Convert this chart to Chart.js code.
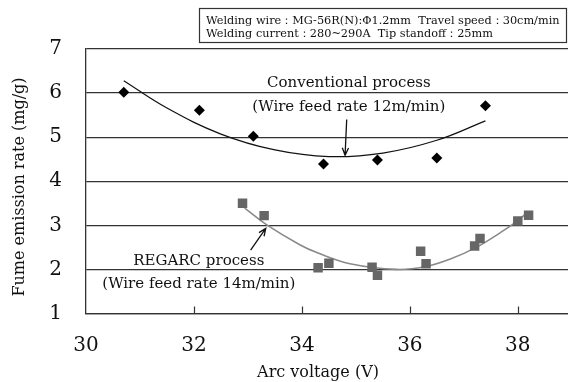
<!DOCTYPE html>
<html>
<head>
<meta charset="utf-8">
<script src="https://cdn.jsdelivr.net/npm/chart.js@4.4.0/dist/chart.umd.min.js"></script>
<style>
  html, body { margin: 0; padding: 0; background: #fff; overflow: hidden; }
</style>
</head>
<body>
<canvas id="mycanvas" width="568" height="382"></canvas>
<script>
// values
var convVoltage = [30.7, 32.1, 33.1, 34.4, 35.4, 36.5, 37.4];
var convFume = [6.02, 5.61, 5.02, 4.39, 4.48, 4.53, 5.71];
var convFitVoltage = [30.7, 31.5, 32.5, 33.5, 34.5, 35.5, 36.5, 37.4];
var convFitFume = [6.28, 5.66, 5.07, 4.71, 4.56, 4.64, 4.93, 5.37];

var regarcVoltage = [32.9, 33.3, 34.3, 34.5, 35.3, 35.4, 36.2, 36.3, 37.2, 37.3, 38.0, 38.2];
var regarcFume = [3.50, 3.22, 2.04, 2.14, 2.05, 1.87, 2.41, 2.13, 2.53, 2.70, 3.10, 3.23];
var regarcFitVoltage = [32.94, 33.35, 33.96, 34.3, 34.89, 35.75, 36.28, 36.74, 37.23, 37.67, 37.98, 38.19];
var regarcFitFume = [3.39, 3.01, 2.56, 2.37, 2.13, 2.00, 2.06, 2.23, 2.50, 2.83, 3.09, 3.31];

var xTicks = [30, 32, 34, 36, 38];
var yTicks = [1, 2, 3, 4, 5, 6, 7];

var infoLines = [
  'Welding wire\uff1aMG-56R(N):\u03a61.2mm  Travel speed\uff1a30cm/min',
  'Welding current\uff1a280~290A  Tip standoff\uff1a25mm'
];

function pts(xs, ys) {
  return xs.map(function(v, i) { return {x: v, y: ys[i]}; });
}

var serif = "'DejaVu Serif', 'Liberation Serif', serif";
Chart.defaults.font.family = serif;
Chart.defaults.color = '#111';

function arrow(ctx, x1, y1, x2, y2) {
  var a = Math.atan2(y2 - y1, x2 - x1), h = 8;
  ctx.beginPath();
  ctx.moveTo(x1, y1);
  ctx.lineTo(x2, y2);
  ctx.moveTo(x2 - h * Math.cos(a - 0.4), y2 - h * Math.sin(a - 0.4));
  ctx.lineTo(x2, y2);
  ctx.lineTo(x2 - h * Math.cos(a + 0.4), y2 - h * Math.sin(a + 0.4));
  ctx.stroke();
}

var notes = {
  id: 'notes',
  afterDraw: function(chart) {
    var ctx = chart.ctx, sx = chart.scales.x, sy = chart.scales.y, a = chart.chartArea;
    ctx.save();

    // tick marks inside the bottom axis
    ctx.strokeStyle = '#333';
    ctx.lineWidth = 1.2;
    xTicks.slice(1).forEach(function(v) {
      var px = Math.round(sx.getPixelForValue(v)) + 0.5;
      ctx.beginPath();
      ctx.moveTo(px, a.bottom);
      ctx.lineTo(px, a.bottom - 7);
      ctx.stroke();
    });

    // text labels
    ctx.fillStyle = '#111';
    ctx.textAlign = 'center';
    ctx.textBaseline = 'middle';
    ctx.font = '15px ' + serif;
    ctx.fillText('Conventional process', sx.getPixelForValue(34.87), sy.getPixelForValue(6.22));
    ctx.fillText('(Wire feed rate 12m/min)', sx.getPixelForValue(34.87), sy.getPixelForValue(5.69));
    ctx.fillText('REGARC process', sx.getPixelForValue(32.09), sy.getPixelForValue(2.19));
    ctx.fillText('(Wire feed rate 14m/min)', sx.getPixelForValue(32.09), sy.getPixelForValue(1.66));

    // arrows
    ctx.strokeStyle = '#111';
    ctx.lineWidth = 1.3;
    arrow(ctx, sx.getPixelForValue(34.83), sy.getPixelForValue(5.40), sx.getPixelForValue(34.80), sy.getPixelForValue(4.59));
    arrow(ctx, sx.getPixelForValue(33.05), sy.getPixelForValue(2.44), sx.getPixelForValue(33.33), sy.getPixelForValue(2.93));

    // axis titles
    ctx.font = '16px ' + serif;
    ctx.fillText('Arc voltage (V)', 318, 373);
    ctx.save();
    ctx.translate(20, 187);
    ctx.rotate(-Math.PI / 2);
    ctx.fillText('Fume emission rate (mg/g)', 0, 0);
    ctx.restore();

    // info box
    ctx.strokeStyle = '#333';
    ctx.lineWidth = 1.2;
    ctx.strokeRect(199.5, 8.5, 367, 34);
    ctx.textAlign = 'left';
    ctx.font = '11.3px ' + serif;
    ctx.fillText(infoLines[0], 206, 21, 355);
    ctx.fillText(infoLines[1], 206, 34.5);

    ctx.restore();
  }
};

new Chart(document.getElementById('mycanvas'), {
  type: 'scatter',
  data: {
    datasets: [{
      label: 'Conventional process',
      data: pts(convVoltage, convFume),
      pointStyle: 'rectRot',
      pointRadius: 5.5,
      backgroundColor: '#000',
      borderColor: '#000',
      borderWidth: 0,
      showLine: false
    }, {
      label: 'REGARC process',
      data: pts(regarcVoltage, regarcFume),
      pointStyle: 'rect',
      pointRadius: 6.7,
      backgroundColor: '#666',
      borderColor: '#666',
      borderWidth: 0,
      showLine: false
    }, {
      label: 'Conventional fit',
      data: pts(convFitVoltage, convFitFume),
      showLine: true,
      pointRadius: 0,
      borderColor: '#111',
      borderWidth: 1.2,
      tension: 0.4
    }, {
      label: 'REGARC fit',
      data: pts(regarcFitVoltage, regarcFitFume),
      showLine: true,
      pointRadius: 0,
      borderColor: '#8a8a8a',
      borderWidth: 1.6,
      tension: 0.4
    }]
  },
  options: {
    responsive: false,
    animation: false,
    devicePixelRatio: 1,
    layout: { autoPadding: false, padding: { top: 49, left: 0, right: 0, bottom: 0 } },
    plugins: { legend: { display: false }, tooltip: { enabled: false } },
    scales: {
      x: {
        type: 'linear',
        min: 30,
        max: 38.93,
        afterBuildTicks: function(s) { s.ticks = xTicks.map(function(v) { return {value: v}; }); },
        afterFit: function(s) { s.height = 68.5; s.paddingLeft = 0; s.paddingRight = 0; },
        grid: { display: false, drawTicks: false },
        border: { display: true, color: '#333', width: 1.3 },
        ticks: { font: { size: 20 }, padding: 20, maxRotation: 0 }
      },
      y: {
        min: 1,
        max: 7,
        afterBuildTicks: function(s) { s.ticks = yTicks.map(function(v) { return {value: v}; }); },
        afterFit: function(s) { s.width = 86; s.paddingTop = 0; s.paddingBottom = 0; },
        grid: { color: '#333', lineWidth: 1.3, drawTicks: false },
        border: { display: true, color: '#333', width: 1.3 },
        ticks: { font: { size: 20 }, padding: 24 }
      }
    }
  },
  plugins: [notes]
});
</script>
</body>
</html>
